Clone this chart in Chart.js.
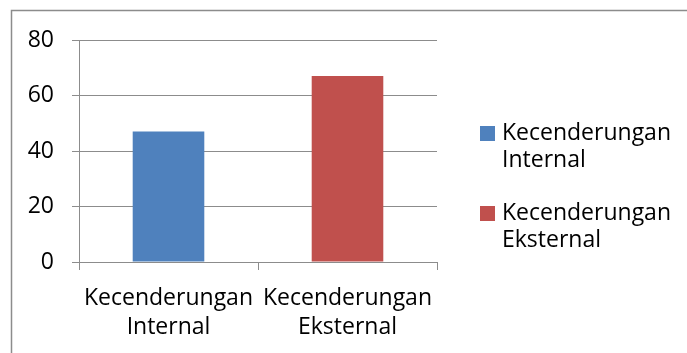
<!DOCTYPE html>
<html>
<head>
<meta charset="utf-8">
<script src="https://cdn.jsdelivr.net/npm/chart.js@4"></script>
<style>
  html, body { margin: 0; padding: 0; background: #fff; }
  #wrap { position: relative; width: 687px; height: 353px; }
</style>
</head>
<body>
<div id="wrap"><canvas id="chart" width="687" height="353"></canvas></div>
<script>
// chart data
const categories = [['Kecenderungan', 'Internal'], ['Kecenderungan', 'Eksternal']];
const values = [47, 67];
const colors = ['#4F81BD', '#C0504D'];
const yTicks = [0, 20, 40, 60, 80];

const gridColor = '#8c8c8c';
const fontFamily = '"Open Sans", sans-serif';

// left and top frame lines (image is cropped on the right/bottom)
const framePlugin = {
  id: 'frame',
  beforeDraw(chart) {
    const ctx = chart.ctx;
    ctx.save();
    ctx.strokeStyle = '#8c8c8c';
    ctx.lineWidth = 1.5;
    ctx.beginPath();
    ctx.moveTo(11.5, 353);
    ctx.lineTo(11.5, 10.5);
    ctx.lineTo(687, 10.5);
    ctx.stroke();
    ctx.restore();
  }
};

// legend with wrapped labels on the right
const legendPlugin = {
  id: 'sideLegend',
  afterDraw(chart) {
    const ctx = chart.ctx;
    ctx.save();
    ctx.font = '23px ' + fontFamily;
    ctx.textBaseline = 'middle';
    ctx.textAlign = 'left';
    categories.forEach((lines, i) => {
      const y0 = 133 + i * 80;
      ctx.fillStyle = colors[i];
      ctx.fillRect(480, y0 - 7, 15, 15);
      ctx.fillStyle = '#000';
      lines.forEach((t, j) => ctx.fillText(t, 502, y0 + j * 27));
    });
    ctx.restore();
  }
};

new Chart(document.getElementById('chart'), {
  type: 'bar',
  data: {
    labels: categories,
    datasets: [{
      data: values,
      backgroundColor: colors,
      borderWidth: 0,
      barPercentage: 0.4,
      categoryPercentage: 1
    }]
  },
  options: {
    responsive: false,
    animation: false,
    layout: { padding: { left: 0, top: 40, right: 250, bottom: 0 } },
    plugins: {
      legend: { display: false },
      tooltip: { enabled: false }
    },
    scales: {
      x: {
        offset: true,
        grid: {
          offset: true,
          drawOnChartArea: false,
          drawTicks: true,
          tickLength: 8,
          color: gridColor,
          lineWidth: 1
        },
        border: { display: true, color: gridColor, width: 1 },
        ticks: {
          color: '#000',
          font: { family: fontFamily, size: 23, lineHeight: 1.25 },
          padding: 14,
          maxRotation: 0,
          autoSkip: false
        },
        afterFit(scale) { scale.height = 91; }
      },
      y: {
        min: 0,
        max: 80,
        afterBuildTicks(scale) { scale.ticks = yTicks.map(v => ({ value: v })); },
        grid: {
          color: gridColor,
          lineWidth: 1,
          tickLength: 7
        },
        border: { display: true, color: gridColor, width: 1 },
        ticks: {
          color: '#000',
          font: { family: fontFamily, size: 23 },
          padding: 18
        },
        afterFit(scale) { scale.width = 79; }
      }
    }
  },
  plugins: [framePlugin, legendPlugin]
});
</script>
</body>
</html>
